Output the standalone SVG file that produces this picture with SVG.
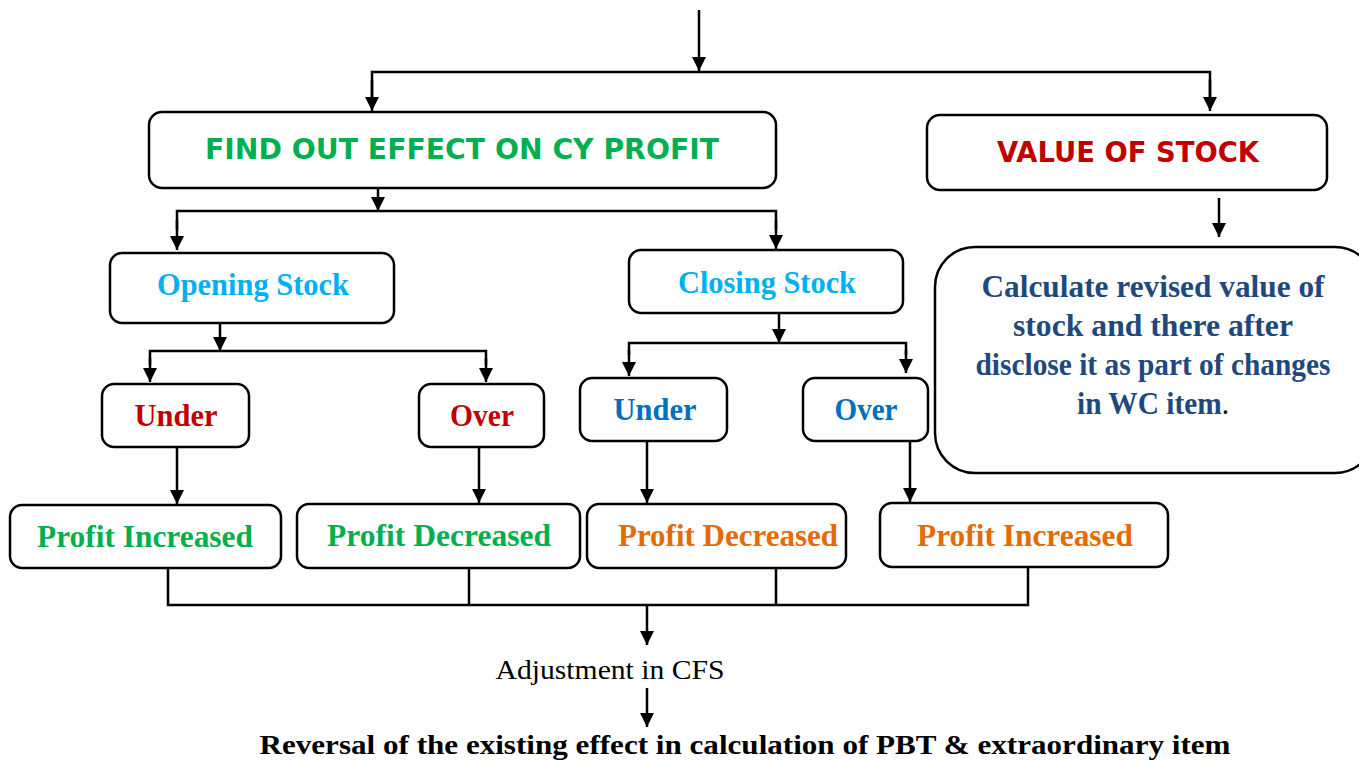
<svg xmlns="http://www.w3.org/2000/svg" width="1359" height="760" viewBox="0 0 1359 760">
<style>
.box{fill:#fff;stroke:#000;stroke-width:2.5}
.ln{fill:none;stroke:#000;stroke-width:2.5}
.ar{fill:none;stroke:#000;stroke-width:2.5;marker-end:url(#ah)}
.comic{font-family:"DejaVu Sans",sans-serif;font-weight:bold;font-size:28px;text-anchor:middle}
.cam{font-family:"Liberation Serif",serif;font-weight:bold;font-size:31px;text-anchor:middle}
.green{fill:#00B050}.red{fill:#C00000}.cyan{fill:#00B0F0}.blue{fill:#0070C0}.orange{fill:#E36C09}.navy{fill:#1F497D}
</style>
<defs>
<marker id="ah" markerUnits="userSpaceOnUse" markerWidth="14" markerHeight="14" viewBox="0 0 14 14" refX="14" refY="7" orient="auto">
<path d="M0,0 L14,7 L0,14 Z" fill="#000"/>
</marker>
</defs>
<rect width="1359" height="760" fill="#fff"/>
<g id="connectors">
<line class="ar" x1="699" y1="10" x2="699" y2="71"/>
<polyline class="ln" points="372,100 372,72 1210,72 1210,100"/>
<line class="ar" x1="372" y1="80" x2="372" y2="111"/>
<line class="ar" x1="1210" y1="80" x2="1210" y2="111"/>
<line class="ar" x1="378" y1="188" x2="378" y2="211"/>
<polyline class="ln" points="177,230 177,211 776,211 776,230"/>
<line class="ar" x1="177" y1="220" x2="177" y2="250"/>
<line class="ar" x1="776" y1="220" x2="776" y2="249"/>
<line class="ar" x1="1219" y1="198" x2="1219" y2="237"/>
<line class="ar" x1="220" y1="323" x2="220" y2="351"/>
<polyline class="ln" points="150,365 150,351 486,351 486,365"/>
<line class="ar" x1="150" y1="358" x2="150" y2="382"/>
<line class="ar" x1="486" y1="358" x2="486" y2="382"/>
<line class="ar" x1="779" y1="313" x2="779" y2="343"/>
<polyline class="ln" points="629,355 629,343 906,343 906,355"/>
<line class="ar" x1="629" y1="350" x2="629" y2="376"/>
<line class="ar" x1="906" y1="350" x2="906" y2="373"/>
<line class="ar" x1="177" y1="447" x2="177" y2="504"/>
<line class="ar" x1="479" y1="447" x2="479" y2="503"/>
<line class="ar" x1="647" y1="441" x2="647" y2="503"/>
<line class="ar" x1="910" y1="441" x2="910" y2="502"/>
<polyline class="ln" points="168,568 168,605 1028,605 1028,567"/>
<line class="ln" x1="469" y1="568" x2="469" y2="605"/>
<line class="ln" x1="776" y1="568" x2="776" y2="605"/>
<line class="ar" x1="647" y1="605" x2="647" y2="645"/>
<line class="ar" x1="647" y1="688" x2="647" y2="727"/>
</g>
<g id="find-out">
<rect class="box" x="149" y="112" width="627" height="76" rx="13"/>
<text class="comic green" x="462" y="159" textLength="514" lengthAdjust="spacingAndGlyphs">FIND OUT EFFECT ON CY PROFIT</text>
</g>
<g id="value-of-stock">
<rect class="box" x="927" y="115" width="400" height="75" rx="13"/>
<text class="comic red" x="1128" y="162" textLength="262" lengthAdjust="spacingAndGlyphs">VALUE OF STOCK</text>
</g>
<g id="calculate">
<rect class="box" x="935" y="247" width="440" height="226" rx="40"/>
<text class="cam navy" x="1153" y="297" textLength="343" lengthAdjust="spacingAndGlyphs">Calculate revised value of</text>
<text class="cam navy" x="1153" y="336" textLength="280" lengthAdjust="spacingAndGlyphs">stock and there after</text>
<text class="cam navy" x="1153" y="375" textLength="355" lengthAdjust="spacingAndGlyphs">disclose it as part of changes</text>
<text class="cam navy" x="1153" y="414" textLength="152" lengthAdjust="spacingAndGlyphs">in WC item<tspan fill="#000" font-weight="normal">.</tspan></text>
</g>
<g id="opening-stock">
<rect class="box" x="110" y="253" width="284" height="70" rx="12"/>
<text class="cam cyan" x="253" y="295" textLength="192" lengthAdjust="spacingAndGlyphs">Opening Stock</text>
</g>
<g id="closing-stock">
<rect class="box" x="629" y="250" width="274" height="63" rx="12"/>
<text class="cam cyan" x="767" y="293" textLength="178" lengthAdjust="spacingAndGlyphs">Closing Stock</text>
</g>
<g id="under-open">
<rect class="box" x="102" y="384" width="147" height="63" rx="12"/>
<text class="cam red" x="176" y="426" textLength="83" lengthAdjust="spacingAndGlyphs">Under</text>
</g>
<g id="over-open">
<rect class="box" x="419" y="384" width="125" height="63" rx="12"/>
<text class="cam red" x="482" y="426" textLength="64" lengthAdjust="spacingAndGlyphs">Over</text>
</g>
<g id="under-close">
<rect class="box" x="580" y="378" width="147" height="63" rx="12"/>
<text class="cam blue" x="655" y="420" textLength="83" lengthAdjust="spacingAndGlyphs">Under</text>
</g>
<g id="over-close">
<rect class="box" x="803" y="378" width="125" height="63" rx="12"/>
<text class="cam blue" x="866" y="420" textLength="63" lengthAdjust="spacingAndGlyphs">Over</text>
</g>
<g id="pi-left">
<rect class="box" x="10" y="505" width="271" height="63" rx="12"/>
<text class="cam green" x="145" y="547" textLength="216" lengthAdjust="spacingAndGlyphs">Profit Increased</text>
</g>
<g id="pd-left">
<rect class="box" x="297" y="504" width="283" height="64" rx="12"/>
<text class="cam green" x="439" y="546" textLength="224" lengthAdjust="spacingAndGlyphs">Profit Decreased</text>
</g>
<g id="pd-right">
<rect class="box" x="587" y="504" width="259" height="64" rx="12"/>
<text class="cam orange" x="728" y="546" textLength="220" lengthAdjust="spacingAndGlyphs">Profit Decreased</text>
</g>
<g id="pi-right">
<rect class="box" x="880" y="503" width="288" height="64" rx="12"/>
<text class="cam orange" x="1025" y="546" textLength="216" lengthAdjust="spacingAndGlyphs">Profit Increased</text>
</g>
<g id="adjustment">
<text x="610" y="679" font-family="Liberation Serif, serif" font-size="28" text-anchor="middle" fill="#000" textLength="229" lengthAdjust="spacingAndGlyphs">Adjustment in CFS</text>
</g>
<g id="reversal">
<text x="745" y="754" font-family="Liberation Serif, serif" font-weight="bold" font-size="28" text-anchor="middle" fill="#000" textLength="971" lengthAdjust="spacingAndGlyphs">Reversal of the existing effect in calculation of PBT &amp; extraordinary item</text>
</g>
</svg>
